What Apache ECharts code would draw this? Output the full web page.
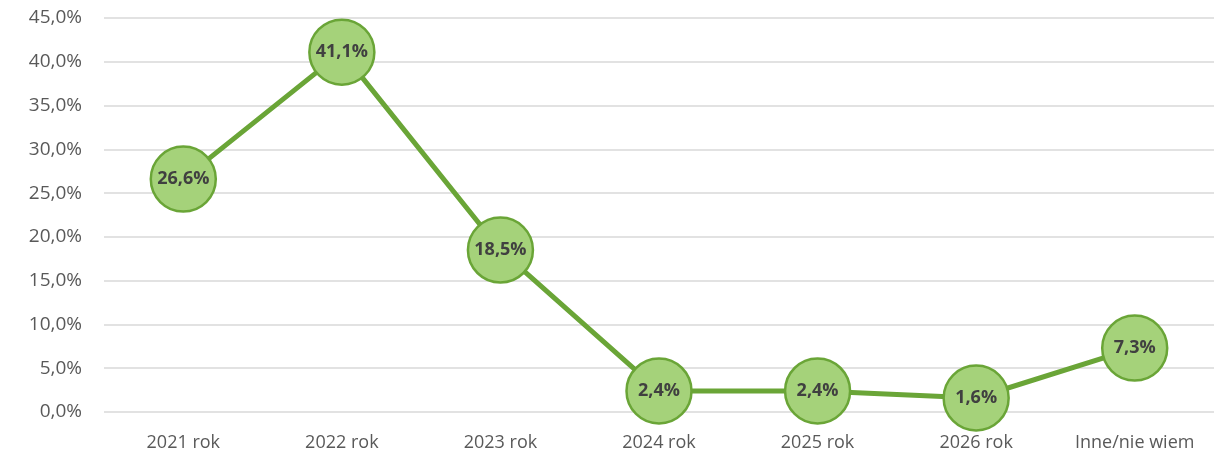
<!DOCTYPE html>
<html>
<head>
<meta charset="utf-8">
<script src="https://cdn.jsdelivr.net/npm/echarts@6/dist/echarts.min.js"></script>
<style>
  html, body { margin: 0; padding: 0; background: #fff; }
  #chart { width: 1222px; height: 456px; }
</style>
</head>
<body>
<div id="chart"></div>
<script>
const categories = ['2021 rok', '2022 rok', '2023 rok', '2024 rok', '2025 rok', '2026 rok', 'Inne/nie wiem'];
const values = [26.6, 41.1, 18.5, 2.4, 2.4, 1.6, 7.3];

const fmt = (v) => v.toFixed(1).replace('.', ',') + '%';

const chart = echarts.init(document.getElementById('chart'), null, { renderer: 'canvas' });

chart.setOption({
  backgroundColor: '#fff',
  animation: false,
  textStyle: { fontFamily: 'Open Sans, sans-serif' },
  grid: { left: 104, right: 8, top: 18, bottom: 44, containLabel: false },
  xAxis: {
    type: 'category',
    data: categories,
    axisLine: { show: false },
    axisTick: { show: false },
    axisLabel: { color: '#595959', fontSize: 18, margin: 22, interval: 0, hideOverlap: false }
  },
  yAxis: {
    type: 'value',
    min: 0, max: 45, interval: 5,
    axisLine: { show: false },
    axisTick: { show: false },
    axisLabel: { color: '#595959', fontSize: 19, margin: 22, formatter: (v) => fmt(v) },
    splitLine: { show: true, lineStyle: { color: '#d9d9d9', width: 1.5 } }
  },
  series: [{
    type: 'line',
    data: values,
    symbol: 'circle',
    symbolSize: 65,
    lineStyle: { color: '#6aa537', width: 5 },
    itemStyle: { color: '#a5d27a', borderColor: '#6aa537', borderWidth: 2.5 },
    label: {
      show: true,
      position: 'inside',
      color: '#404040',
      fontSize: 18,
      fontWeight: 'bold',
      formatter: (p) => fmt(p.value)
    }
  }]
});
</script>
</body>
</html>
